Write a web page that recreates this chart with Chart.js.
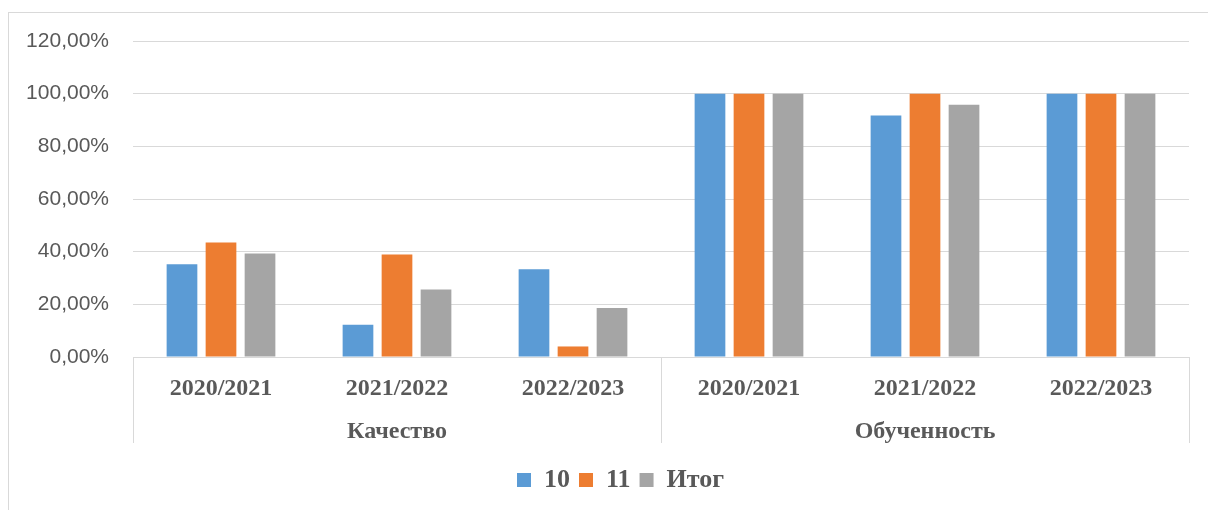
<!DOCTYPE html>
<html>
<head>
<meta charset="utf-8">
<script src="https://cdn.jsdelivr.net/npm/chart.js@4"></script>
<style>
  html, body { margin: 0; padding: 0; background: #fff; }
  #wrap { position: relative; width: 1208px; height: 510px; overflow: hidden; }
  #frame { position: absolute; left: 8px; top: 12px; width: 1300px; height: 600px; border: 1px solid #d9d9d9; box-sizing: border-box; }
  canvas { position: absolute; left: 0; top: 0; }
</style>
</head>
<body>
<div id="wrap">
  <div id="frame"></div>
  <canvas id="chart" width="1208" height="510"></canvas>
</div>
<script>
// Categories (two-level axis)
const years = ['2020/2021', '2021/2022', '2022/2023'];
const groups = ['Качество', 'Обученность'];

// Series values (fractions), per group
const quality10 = [0.352, 0.122, 0.333];
const quality11 = [0.435, 0.389, 0.040];
const qualityAll = [0.393, 0.256, 0.186];

const learned10 = [1.0, 0.917, 1.0];
const learned11 = [1.0, 1.0, 1.0];
const learnedAll = [1.0, 0.958, 1.0];

const seriesNames = ['10', '11', 'Итог'];
const seriesColors = ['#5b9bd5', '#ed7d31', '#a5a5a5'];

const labels = years.concat(years);
const seriesData = [
  quality10.concat(learned10),
  quality11.concat(learned11),
  qualityAll.concat(learnedAll)
];

const textColor = '#595959';
const lineColor = '#d9d9d9';
const serif = '"Liberation Serif", "Times New Roman", serif';

// Draws the group labels and separators of the second axis level
const groupAxis = {
  id: 'groupAxis',
  afterLayout(chart) {
    // legend is centred under the plot area, not the whole canvas
    chart.legend.left += 52;
  },
  afterDraw(chart) {
    const ctx = chart.ctx;
    const x = chart.scales.x;
    const area = chart.chartArea;
    const per = years.length;
    const bottom = 443;

    ctx.save();
    ctx.strokeStyle = lineColor;
    ctx.lineWidth = 1;
    const edges = [area.left];
    for (let g = 1; g < groups.length; g++) {
      edges.push((x.getPixelForValue(g * per - 1) + x.getPixelForValue(g * per)) / 2);
    }
    edges.push(area.right);
    edges.forEach(px => {
      const p = Math.round(px) + 0.5;
      ctx.beginPath();
      ctx.moveTo(p, area.bottom);
      ctx.lineTo(p, bottom);
      ctx.stroke();
    });

    ctx.fillStyle = textColor;
    ctx.font = 'bold 24px ' + serif;
    ctx.textAlign = 'center';
    ctx.textBaseline = 'middle';
    groups.forEach((name, g) => {
      const cx = (edges[g] + edges[g + 1]) / 2;
      ctx.fillText(name, cx, 432);
    });
    ctx.restore();
  }
};

new Chart(document.getElementById('chart').getContext('2d'), {
  type: 'bar',
  data: {
    labels: labels,
    datasets: seriesNames.map((name, i) => ({
      label: name,
      data: seriesData[i],
      backgroundColor: seriesColors[i],
      borderWidth: 0,
      categoryPercentage: 0.665,
      barPercentage: 0.787
    }))
  },
  options: {
    responsive: false,
    animation: false,
    layout: { padding: { left: 0, right: 19, top: 41, bottom: 7 } },
    plugins: {
      tooltip: { enabled: false },
      legend: {
        position: 'bottom',
        labels: {
          color: textColor,
          font: { family: serif, size: 26, weight: 'bold' },
          boxWidth: 14,
          boxHeight: 14,
          padding: 9
        }
      }
    },
    scales: {
      x: {
        grid: { display: false, drawTicks: false },
        border: { display: true, color: lineColor },
        ticks: {
          color: textColor,
          padding: 17,
          maxRotation: 0,
          font: { family: serif, size: 24, weight: 'bold' }
        },
        afterFit(scale) { scale.height = 101; }
      },
      y: {
        min: 0,
        max: 1.2,
        grid: { color: lineColor, drawTicks: false },
        border: { display: false },
        ticks: {
          stepSize: 0.2,
          color: textColor,
          padding: 24,
          font: { family: '"Liberation Sans", Arial, sans-serif', size: 21 },
          callback: v => (v * 100).toFixed(2).replace('.', ',') + '%'
        },
        afterFit(scale) { scale.width = 133; }
      }
    }
  },
  plugins: [groupAxis]
});
</script>
</body>
</html>
